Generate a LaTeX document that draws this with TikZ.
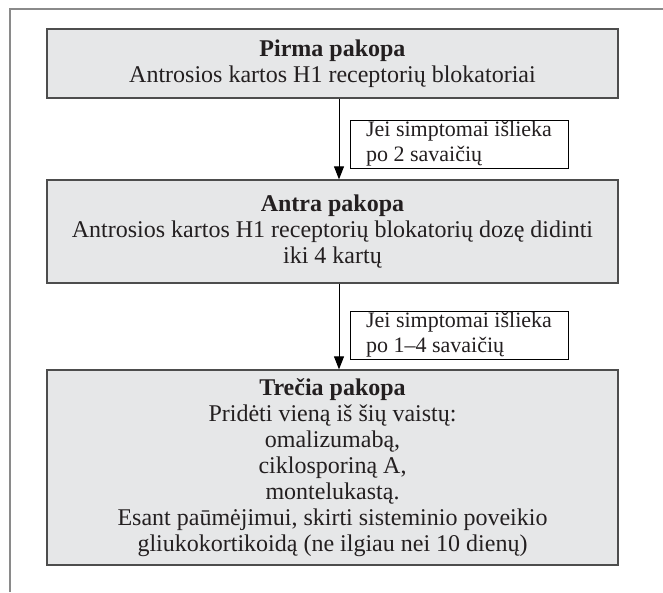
\documentclass[tikz,border=0pt]{standalone}
\usepackage{fontspec}
\setmainfont{Liberation Serif}
\usetikzlibrary{arrows.meta,calc}
\definecolor{boxfill}{HTML}{E6E7E8}
\definecolor{boxline}{HTML}{4D4D4D}
\definecolor{frameline}{HTML}{8A8A8A}
\definecolor{ink}{HTML}{231F20}
\tikzset{
  stagebox/.style={draw=boxline, line width=1.3pt, fill=boxfill, minimum width=571pt,
    inner sep=0pt, align=center, text=ink, font=\fontsize{24}{26}\selectfont},
  condbox/.style={draw=black, line width=1pt, fill=white, minimum width=218pt, minimum height=48pt,
    inner sep=0pt, align=left, text=ink, font=\fontsize{22}{25}\selectfont},
  flow/.style={draw=black, line width=1pt, -{Triangle[length=13pt,width=10pt]}},
  outerframe/.style={draw=frameline, line width=1.5pt}
}
\begin{document}
\begin{tikzpicture}[x=1pt,y=-1pt]
\useasboundingbox (0,0) rectangle (663,592);
\draw[outerframe] (10,592) -- (10,9) -- (663,9);
\node[stagebox, minimum height=69pt] (s1) at (332.5,63.5)
  {\textbf{Pirma pakopa}\\Antrosios kartos H1 receptorių blokatoriai};
\node[stagebox, minimum height=103pt] (s2) at (332.5,231.5)
  {\textbf{Antra pakopa}\\Antrosios kartos H1 receptorių blokatorių dozę didinti\\iki 4 kartų};
\node[stagebox, minimum height=195pt] (s3) at (332.5,467.5)
  {\textbf{Trečia pakopa}\\Pridėti vieną iš šių vaistų:\\omalizumabą,\\ciklosporiną A,\\montelukastą.\\Esant paūmėjimui, skirti sisteminio poveikio\\gliukokortikoidą (ne ilgiau nei 10 dienų)};
\node[condbox] (c1) at (459,144) {Jei simptomai išlieka\\po 2 savaičių};
\node[condbox] (c2) at (459,335) {Jei simptomai išlieka\\po 1–4 savaičių};
\draw[flow] ($(s1.south)+(6.5,0)$) -- ($(s2.north)+(6.5,0)$);
\draw[flow] ($(s2.south)+(6.5,0)$) -- ($(s3.north)+(6.5,0)$);
\end{tikzpicture}
\end{document}
